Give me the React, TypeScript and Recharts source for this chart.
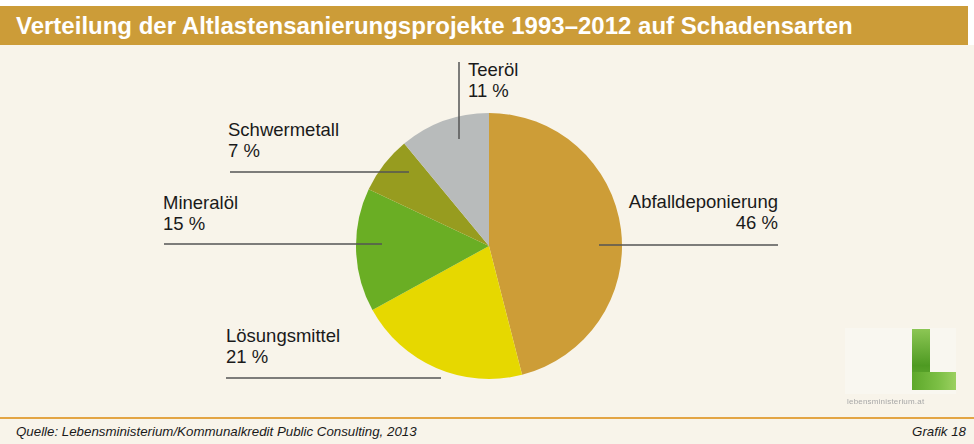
import { PieChart, Pie, Cell } from 'recharts';

const categories = ['Abfalldeponierung', 'Lösungsmittel', 'Mineralöl', 'Schwermetall', 'Teeröl'];
const shares = [46, 21, 15, 7, 11];
const colors = ['#CD9D37', '#E6D800', '#6AAE24', '#979C1F', '#B8BBBB'];

const data = categories.map((name, i) => ({ name, value: shares[i] }));

// annotation layout relative to pie centre: text x, first baseline, line geometry
const labelLayout = [
  { tx: 289, ty: -38, anchor: 'end', line: [110, -1, 289, -1] },
  { tx: -263, ty: 96, anchor: 'start', line: [-263, 132, -48, 132] },
  { tx: -326, ty: -37, anchor: 'start', line: [-325, -2, -107, -2] },
  { tx: -261, ty: -110, anchor: 'start', line: [-259, -74, -80, -74] },
  { tx: -21, ty: -170, anchor: 'start', line: [-30, -184, -30, -107] },
];

const font = '"Liberation Sans", Arial, sans-serif';

function renderLabel(props: any) {
  const { cx, cy, index } = props;
  const l = labelLayout[index];
  return (
    <g>
      <line
        x1={cx + l.line[0]}
        y1={cy + l.line[1]}
        x2={cx + l.line[2]}
        y2={cy + l.line[3]}
        stroke="#555"
        strokeWidth={1.5}
      />
      <text x={cx + l.tx} y={cy + l.ty} textAnchor={l.anchor} fontSize={18.5} fill="#1a1a1a" fontFamily={font}>
        {categories[index]}
      </text>
      <text x={cx + l.tx} y={cy + l.ty + 21} textAnchor={l.anchor} fontSize={18.5} fill="#1a1a1a" fontFamily={font}>
        {shares[index]} %
      </text>
    </g>
  );
}

export default function App() {
  return (
    <div style={{ position: 'absolute', left: 0, top: 0, width: 974, height: 444, background: '#fff', fontFamily: font }}>
      <div style={{ position: 'absolute', left: 0, top: 45, width: 974, height: 399, background: '#F8F4EA' }} />
      <div
        style={{
          position: 'absolute', left: 0, top: 6, width: 968, height: 39, background: '#CC9C38',
          color: '#fff', fontWeight: 'bold', fontSize: 24, lineHeight: '40px', paddingLeft: 16, boxSizing: 'border-box',
          whiteSpace: 'nowrap',
        }}
      >
        Verteilung der Altlastensanierungsprojekte 1993–2012 auf Schadensarten
      </div>
      <div style={{ position: 'absolute', left: 0, top: 45, width: 974, height: 399 }}>
        <PieChart width={974} height={399} margin={{ top: 0, right: 0, bottom: 0, left: 0 }}>
          <Pie
            data={data}
            dataKey="value"
            nameKey="name"
            cx={489}
            cy={201}
            outerRadius={133}
            startAngle={90}
            endAngle={-270}
            stroke="none"
            label={renderLabel}
            labelLine={false}
            isAnimationActive={false}
          >
            {data.map((d, i) => (
              <Cell key={d.name} fill={colors[i]} />
            ))}
          </Pie>
        </PieChart>
      </div>
      {/* logo */}
      <div style={{ position: 'absolute', left: 845, top: 328, width: 111, height: 66, background: '#F9F7F0' }} />
      <div style={{ position: 'absolute', left: 912, top: 329, width: 18, height: 61, background: 'linear-gradient(180deg, #8CC654, #4E9A22 60%, #6FB33A)' }} />
      <div style={{ position: 'absolute', left: 912, top: 372, width: 44, height: 18, background: 'linear-gradient(90deg, #5DA82A, #7CBF45 60%, #9BD060)' }} />
      <div style={{ position: 'absolute', left: 847, top: 397, fontSize: 8, color: '#a8a8a8', letterSpacing: 0.2, filter: 'blur(0.5px)' }}>lebensministerium.at</div>
      <div style={{ position: 'absolute', left: 0, top: 417, width: 974, height: 2, background: '#E3A544' }} />
      <div style={{ position: 'absolute', left: 16, top: 424, fontSize: 13.3, fontStyle: 'italic', color: '#1a1a1a', whiteSpace: 'nowrap' }}>
        Quelle: Lebensministerium/Kommunalkredit Public Consulting, 2013
      </div>
      <div style={{ position: 'absolute', left: 0, width: 966, textAlign: 'right', top: 424, fontSize: 13.3, fontStyle: 'italic', color: '#1a1a1a' }}>
        Grafik 18
      </div>
    </div>
  );
}
